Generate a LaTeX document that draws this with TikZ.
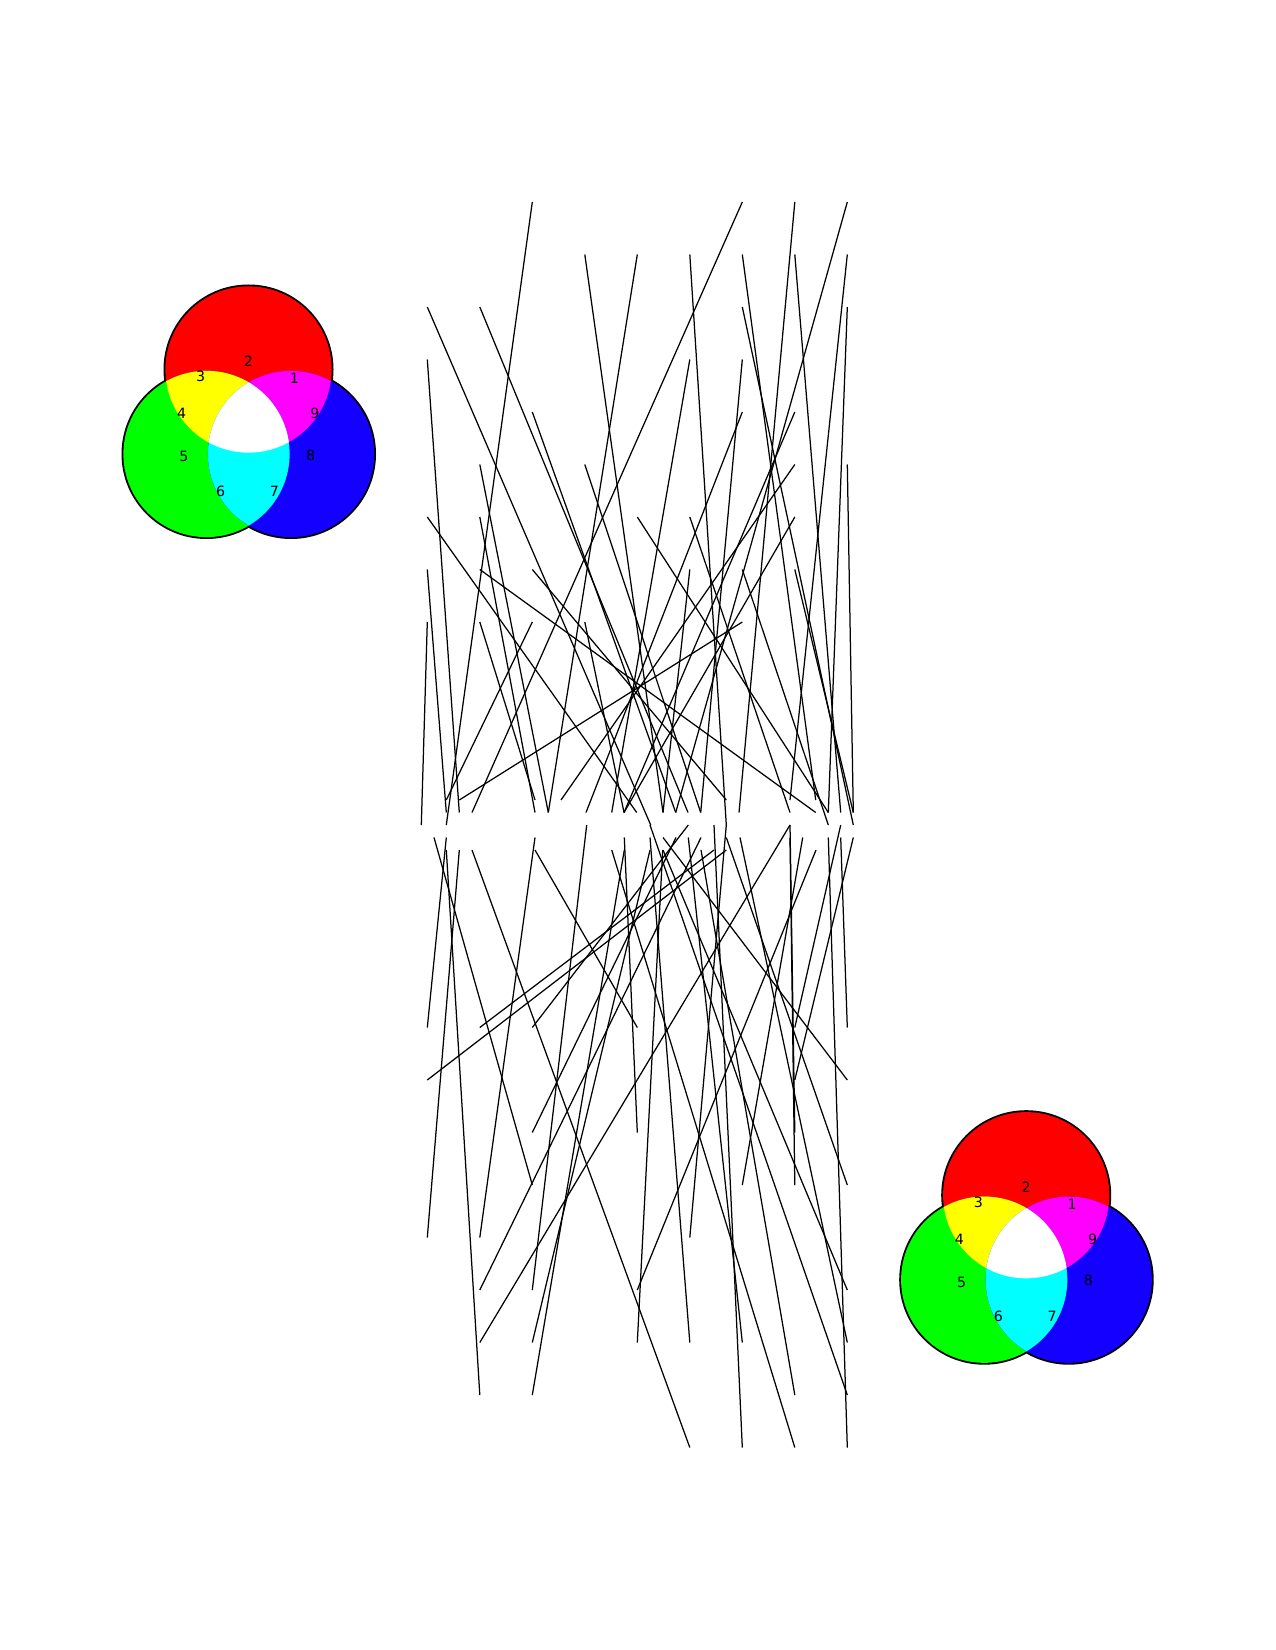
\documentclass[tikz,border=0pt]{standalone}
\usepackage{fontspec}
\setmainfont{DejaVu Sans}
\definecolor{vR}{RGB}{255,0,0}
\definecolor{vG}{RGB}{0,255,0}
\definecolor{vB}{RGB}{20,0,255}
\definecolor{vY}{RGB}{255,255,0}
\definecolor{vM}{RGB}{255,0,255}
\definecolor{vC}{RGB}{0,255,255}
\tikzset{
  wire/.style={line width=0.6pt, black},
  lab/.style={inner sep=0pt, font=\fontsize{6.8}{7}\selectfont},
  rim/.style={line width=1.8pt, black}
}
\newcommand\rgbvenn[3]{%
\begin{scope}[shift={(#1,#2)}]
 \coordinate (#3r) at (248.5,369.5);
 \coordinate (#3g) at (206.5,454);
 \coordinate (#3b) at (291,454);
 \draw[rim] (#3r) circle[radius=39.9pt];
 \draw[rim] (#3g) circle[radius=39.9pt];
 \draw[rim] (#3b) circle[radius=39.9pt];
 \fill[vR] (#3r) circle[radius=39.9pt];
 \fill[vG] (#3g) circle[radius=39.9pt];
 \fill[vB] (#3b) circle[radius=39.9pt];
 \begin{scope}\clip (#3r) circle[radius=39.9pt]; \fill[vY] (#3g) circle[radius=39.9pt];\end{scope}
 \begin{scope}\clip (#3r) circle[radius=39.9pt]; \fill[vM] (#3b) circle[radius=39.9pt];\end{scope}
 \begin{scope}\clip (#3g) circle[radius=39.9pt]; \fill[vC] (#3b) circle[radius=39.9pt];\end{scope}
 \begin{scope}\clip (#3r) circle[radius=39.9pt]; \clip (#3g) circle[radius=39.9pt]; \fill[white] (#3b) circle[radius=39.9pt];\end{scope}
 \node[lab] (#3l1) at (294.3,378.3) {1};
 \node[lab] (#3l2) at (248.3,361.7) {2};
 \node[lab] (#3l3) at (200.7,376.7) {3};
 \node[lab] (#3l4) at (181.7,413.3) {4};
 \node[lab] (#3l5) at (184,456.7) {5};
 \node[lab] (#3l6) at (220.7,491) {6};
 \node[lab] (#3l7) at (274.3,491) {7};
 \node[lab] (#3l8) at (310.7,455) {8};
 \node[lab] (#3l9) at (315,413.3) {9};
\end{scope}}
\begin{document}
\begin{tikzpicture}[x=0.48pt,y=-0.48pt]
\useasboundingbox (0,0) rectangle (1275,1650);
\fill[white] (0,0) rectangle (1275,1650);
% upper bundle
\foreach \xa/\ya/\xb/\yb in {
532.3/202/446.3/825, 742.3/202/472/812.5, 794.8/202/739/812.5, 847.3/202/675.7/812.5,
584.8/254.5/663/812.5, 637.3/254.5/548.3/812.5, 689.8/254.5/726.3/825, 742.3/254.5/815.7/800,
794.8/254.5/840.7/812.5, 847.3/254.5/790/800,
427.3/307/650.7/825, 479.8/307/688/812.5, 742.3/307/853.3/825, 847.3/307/828.3/812.5,
427.3/359.5/459.3/812.5, 689.8/359.5/611.7/812.5, 742.3/359.5/700.7/812.5,
532.3/412/675.7/812.5, 742.3/412/586/812.5, 794.8/412/624/812.5,
479.8/464.5/548.3/812.5, 584.8/464.5/700.7/812.5, 794.8/464.5/561/800, 847.3/464.5/853.3/812.5,
427.3/517/636.7/812.5, 479.8/517/535/812.5, 637.3/517/828.3/812.5, 689.8/517/790/812.5, 794.8/517/624/812.5,
427.3/569.5/446.3/812.5, 479.8/569.5/815.7/812.5, 532.3/569.5/726.3/800, 689.8/569.5/663/812.5,
742.3/569.5/828.3/825, 794.8/569.5/853.3/812.5,
427.3/622/421.3/825, 479.8/622/535/800, 532.3/622/446.3/800, 584.8/622/624/812.5, 742.3/622/459.3/800}
  \draw[wire] (\xa,\ya) -- (\xb,\yb);
% lower bundle
\foreach \xa/\ya/\xb/\yb in {
427.3/1027.5/446.3/837.5, 479.8/1027.5/714/850, 532.3/1027.5/688.3/825, 637.3/1027.5/535/850,
794.8/1027.5/840.7/825, 847.3/1027.5/840.7/837.5,
427.3/1080/726.3/850, 794.8/1080/853.3/837.5, 847.3/1080/663/837.5,
532.3/1132.5/676/837.5, 637.3/1132.5/624.3/837.5, 794.8/1132.5/790/825,
532.3/1185/434/837.5, 742.3/1185/802.7/837.5, 794.8/1185/790/837.5, 847.3/1185/726.3/837.5,
427.3/1237.5/459.3/850, 479.8/1237.5/535/837.5, 689.8/1237.5/726.3/825,
479.8/1290/701/837.5, 532.3/1290/586.7/825, 637.3/1290/816/850, 847.3/1290/663/850,
479.8/1342.5/790/825, 532.3/1342.5/650/850, 637.3/1342.5/662.7/850, 689.8/1342.5/650/837.5,
742.3/1342.5/688.3/837.5, 847.3/1342.5/740/837.5,
479.8/1395/446.3/850, 532.3/1395/624.3/850, 794.8/1395/701/850, 847.3/1395/650/825,
689.8/1447.5/472/850, 742.3/1447.5/714/825, 794.8/1447.5/611.7/850, 847.3/1447.5/828.3/837.5}
  \draw[wire] (\xa,\ya) -- (\xb,\yb);
\rgbvenn{0}{0}{va}
\rgbvenn{777.7}{825.7}{vb}
\end{tikzpicture}
\end{document}
